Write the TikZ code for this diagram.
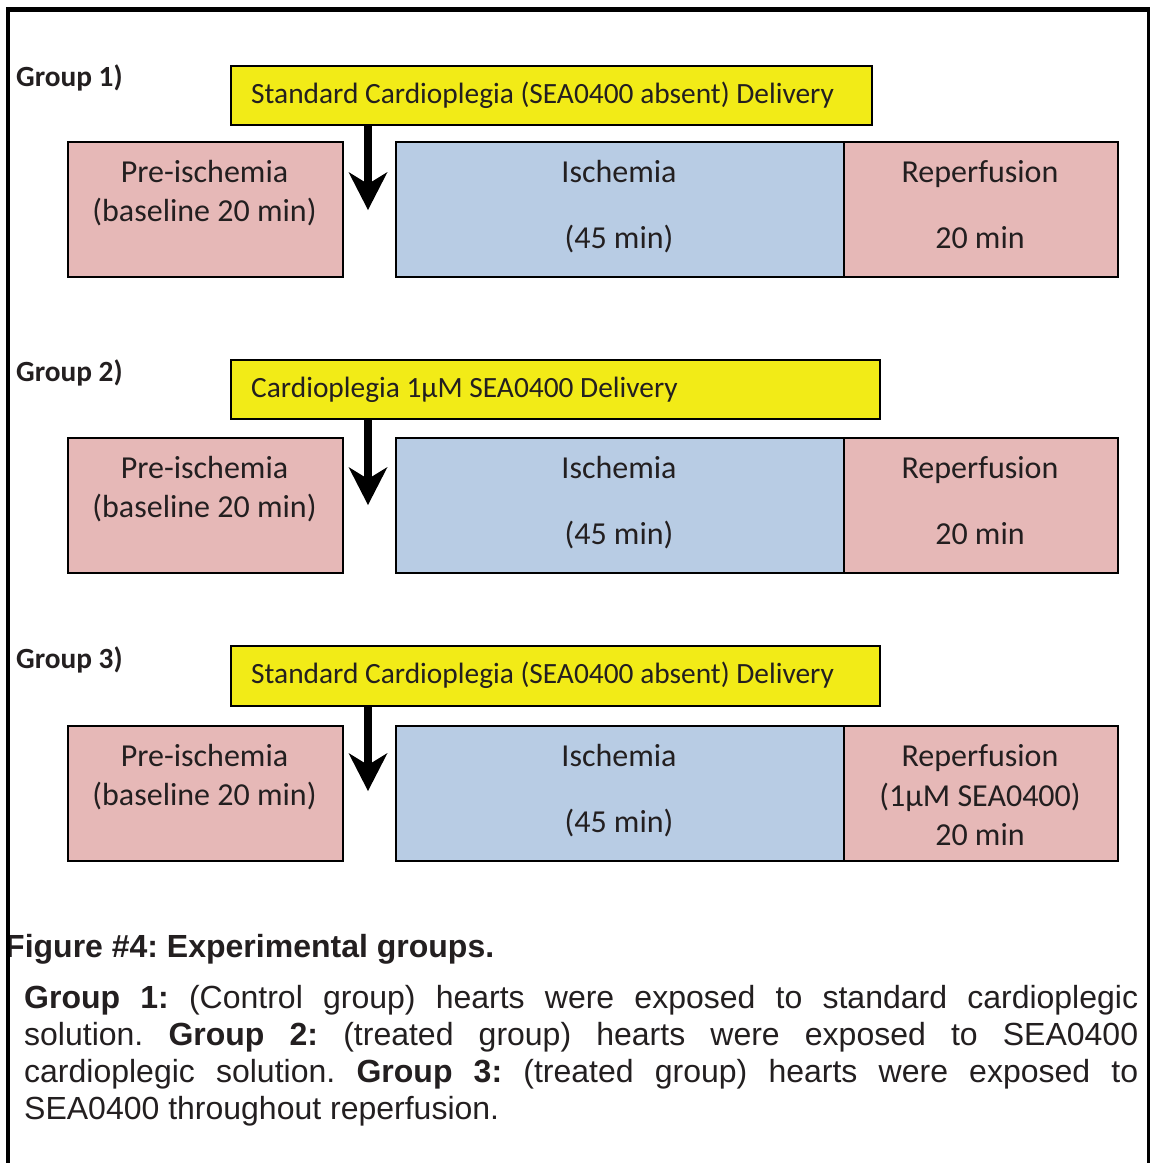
\documentclass[tikz,border=0pt]{standalone}
\usepackage{fontspec}
\setmainfont{Carlito}
\newfontfamily\arialf{Liberation Sans}
\usetikzlibrary{arrows.meta}
\definecolor{pinkbox}{RGB}{230,184,183}
\definecolor{bluebox}{RGB}{184,204,228}
\definecolor{yelbox}{RGB}{242,235,23}
\definecolor{txt}{RGB}{35,31,32}
\frenchspacing
\begin{document}
\begin{tikzpicture}[x=1pt,y=-1pt,
  box/.style={draw=black, line width=1.6pt, inner sep=0pt, anchor=north west},
  prebox/.style={box, fill=pinkbox},
  iscbox/.style={box, fill=bluebox},
  yelbox/.style={box, line width=1.8pt, fill=yelbox},
  btxt/.style={anchor=base, inner sep=0pt, text=txt, font=\fontsize{32}{38}\selectfont},
  ytxt/.style={anchor=base west, inner sep=0pt, text=txt, font=\fontsize{29.4}{34}\selectfont},
  glab/.style={anchor=base west, inner sep=0pt, text=txt, font=\bfseries\fontsize{29.3}{34}\selectfont},
  deliv/.style={line width=8pt, -{Stealth[length=38pt,width=39pt,inset=12pt,line width=0pt]}},
  captxt/.style={anchor=base west, inner sep=0pt, text=txt, font=\arialf\fontsize{32}{37}\selectfont}
]
\useasboundingbox (0,0) rectangle (1150,1163);
\fill[white] (0,0) rectangle (1150,1163);

% ---------- Group 1 ----------
\node[glab] (g1) at (16,86) {Group 1)};
\node[yelbox, minimum width=641pt, minimum height=59pt] (y1) at (230,65) {};
\node[ytxt] (y1t) at (251,103) {Standard Cardioplegia (SEA0400 absent) Delivery};
\node[prebox, minimum width=275pt, minimum height=135pt] (p1) at (67,141) {};
\node[iscbox, minimum width=448pt, minimum height=135pt] (i1) at (395,141) {};
\node[prebox, minimum width=274pt, minimum height=135pt] (r1) at (843,141) {};
\node[btxt] (p1a) at (204.5,182) {Pre-ischemia};
\node[btxt] (p1b) at (204.5,221) {(baseline 20 min)};
\node[btxt] (i1a) at (619,182) {Ischemia};
\node[btxt] (i1b) at (619,248) {(45 min)};
\node[btxt] (r1a) at (980,182) {Reperfusion};
\node[btxt] (r1b) at (980,248) {20 min};
\coordinate (t1) at (368,210);
\draw[deliv] (y1.south -| t1) -- (t1);

% ---------- Group 2 ----------
\node[glab] (g2) at (16,381) {Group 2)};
\node[yelbox, minimum width=649pt, minimum height=59pt] (y2) at (230,359) {};
\node[ytxt] (y2t) at (251,397) {Cardioplegia 1µM SEA0400 Delivery};
\node[prebox, minimum width=275pt, minimum height=135pt] (p2) at (67,437) {};
\node[iscbox, minimum width=448pt, minimum height=135pt] (i2) at (395,437) {};
\node[prebox, minimum width=274pt, minimum height=135pt] (r2) at (843,437) {};
\node[btxt] (p2a) at (204.5,478) {Pre-ischemia};
\node[btxt] (p2b) at (204.5,517) {(baseline 20 min)};
\node[btxt] (i2a) at (619,478) {Ischemia};
\node[btxt] (i2b) at (619,544) {(45 min)};
\node[btxt] (r2a) at (980,478) {Reperfusion};
\node[btxt] (r2b) at (980,544) {20 min};
\coordinate (t2) at (368,505);
\draw[deliv] (y2.south -| t2) -- (t2);

% ---------- Group 3 ----------
\node[glab] (g3) at (16,668) {Group 3)};
\node[yelbox, minimum width=649pt, minimum height=60pt] (y3) at (230,645) {};
\node[ytxt] (y3t) at (251,683) {Standard Cardioplegia (SEA0400 absent) Delivery};
\node[prebox, minimum width=275pt, minimum height=135pt] (p3) at (67,725) {};
\node[iscbox, minimum width=448pt, minimum height=135pt] (i3) at (395,725) {};
\node[prebox, minimum width=274pt, minimum height=135pt] (r3) at (843,725) {};
\node[btxt] (p3a) at (204.5,766) {Pre-ischemia};
\node[btxt] (p3b) at (204.5,805) {(baseline 20 min)};
\node[btxt] (i3a) at (619,766) {Ischemia};
\node[btxt] (i3b) at (619,832) {(45 min)};
\node[btxt] (r3a) at (980,766) {Reperfusion};
\node[btxt] (r3b) at (980,806) {(1µM SEA0400)};
\node[btxt] (r3c) at (980,845) {20 min};
\coordinate (t3) at (368,791);
\draw[deliv] (y3.south -| t3) -- (t3);

% ---------- Caption ----------
\node[captxt, font=\arialf\bfseries\fontsize{32}{37}\selectfont] (cap) at (5,957) {Figure \#4: Experimental groups.};
\node[captxt] (b1) at (24,1008) {\makebox[1114pt][s]{\textbf{Group 1:} (Control group) hearts were exposed to standard cardioplegic}};
\node[captxt] (b2) at (24,1045) {\makebox[1114pt][s]{solution. \textbf{Group 2:} (treated group) hearts were exposed to SEA0400}};
\node[captxt] (b3) at (24,1082) {\makebox[1114pt][s]{cardioplegic solution. \textbf{Group 3:} (treated group) hearts were exposed to}};
\node[captxt] (b4) at (24,1119) {SEA0400 throughout reperfusion.};

% ---------- Frame ----------
\draw[line width=4.5pt, line join=miter] (8,1170) -- (8,9.5) -- (1150,9.5);
\draw[line width=3pt] (1148.5,8) -- (1148.5,1170);
\end{tikzpicture}
\end{document}
